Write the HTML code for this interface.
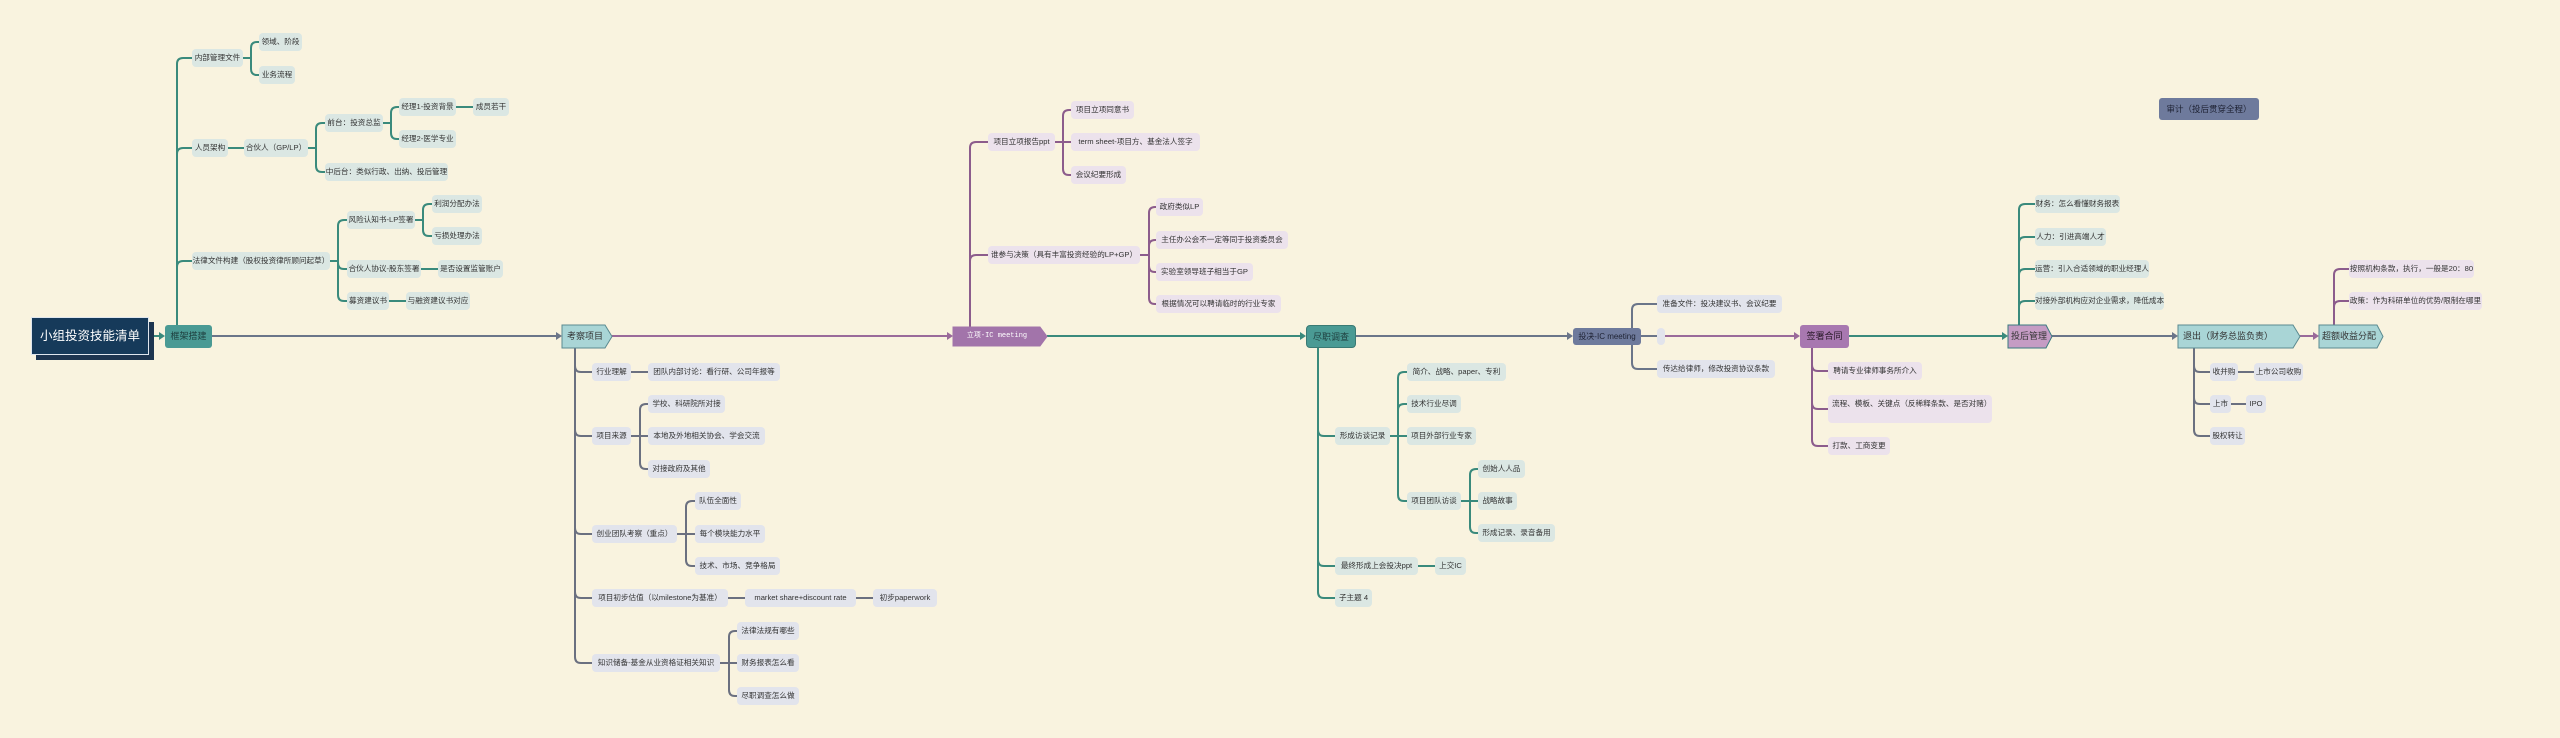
<!DOCTYPE html>
<html><head><meta charset="utf-8"><style>
html,body{margin:0;padding:0}
body{width:2560px;height:738px;background:#f9f3df;position:relative;overflow:hidden;font-family:"Liberation Sans","Noto Sans CJK SC",sans-serif}
svg{position:absolute;left:0;top:0}
.n{position:absolute;height:18px;line-height:18px;font-size:7.6px;border-radius:4px;text-align:center;white-space:nowrap;color:#333}
.t{background:#dbe7e3}.g{background:#e2e4ec}.p{background:#ece2ec}
.m{position:absolute;height:23px;line-height:23px;font-size:9px;text-align:center;white-space:nowrap;color:#333}
</style></head><body>
<svg width="2560" height="738" fill="none" stroke-width="2">
<g stroke="#3a8a7c"><path d="M149 336H160"/></g>
<path d="M212 336H557" stroke="#6b7589"/>
<path d="M612 336H948" stroke="#9a6a9a"/>
<path d="M1047 336H1301" stroke="#3a8a7c"/>
<path d="M1356 336H1568" stroke="#6b7589"/>
<path d="M1641 336H1657" stroke="#6b7589"/>
<path d="M1665 336H1795" stroke="#9a6a9a"/>
<path d="M1849 336H2003" stroke="#3a8a7c"/>
<path d="M2052 336H2173" stroke="#6b7589"/>
<path d="M2300 336H2314" stroke="#9a6a9a"/>
<g stroke="none">
<polygon points="159,332 165,336 159,340" fill="#3a8a7c"/>
<polygon points="556,332 562,336 556,340" fill="#6b7589"/>
<polygon points="947,332 953,336 947,340" fill="#9a6a9a"/>
<polygon points="1300,332 1306,336 1300,340" fill="#3a8a7c"/>
<polygon points="1567,332 1573,336 1567,340" fill="#6b7589"/>
<polygon points="1794,332 1800,336 1794,340" fill="#9a6a9a"/>
<polygon points="2002,332 2008,336 2002,340" fill="#3a8a7c"/>
<polygon points="2172,332 2178,336 2172,340" fill="#6b7589"/>
<polygon points="2313,332 2319,336 2313,340" fill="#9a6a9a"/>
</g>
<g stroke="#3a8a7c">
<path d="M177 325V64Q177 58 183 58H192"/>
<path d="M177 325V154Q177 148 183 148H192"/>
<path d="M177 325V267Q177 261 183 261H192"/>
<path d="M243 58H251M251 58V48Q251 42 257 42H259M251 58V69Q251 75 257 75H259"/>
<path d="M228 148H244"/>
<path d="M308 148H316M316 148V129Q316 123 322 123H325M316 148V166Q316 172 322 172H325"/>
<path d="M383 123H391M391 123V113Q391 107 397 107H399M391 123V133Q391 139 397 139H399"/>
<path d="M456 107H473"/>
<path d="M330 261H338M338 261V226Q338 220 344 220H347M338 261V263Q338 269 344 269H347M338 261V295Q338 301 344 301H347"/>
<path d="M415 220H423M423 220V210Q423 204 429 204H432M423 220V230Q423 236 429 236H432"/>
<path d="M421 269H438M389 301H406"/>
</g>
<g stroke="#6b7080">
<path d="M575 348V366Q575 372 581 372H592M575 348V430Q575 436 581 436H592M575 348V528Q575 534 581 534H592M575 348V592Q575 598 581 598H592M575 348V657Q575 663 581 663H592"/>
<path d="M631 372H648"/>
<path d="M631 436H648M640 436V410Q640 404 646 404H648M640 436V463Q640 469 646 469H648"/>
<path d="M677 534H695M686 534V507Q686 501 692 501H695M686 534V560Q686 566 692 566H695"/>
<path d="M728 598H745M856 598H873"/>
<path d="M720 663H737M729 663V637Q729 631 735 631H737M729 663V690Q729 696 735 696H737"/>
</g>
<g stroke="#8c5c8c">
<path d="M970 327V148Q970 142 976 142H988M970 327V261Q970 255 976 255H988"/>
<path d="M1055 142H1071M1063 142V116Q1063 110 1069 110H1071M1063 142V169Q1063 175 1069 175H1071"/>
<path d="M1140 255H1149M1149 255V213Q1149 207 1155 207H1156M1149 255V246Q1149 240 1155 240H1156M1149 255V266Q1149 272 1155 272H1156M1149 255V298Q1149 304 1155 304H1156"/>
</g>
<g stroke="#3a8a7c">
<path d="M1318 348V430Q1318 436 1324 436H1335M1318 348V560Q1318 566 1324 566H1335M1318 348V592Q1318 598 1324 598H1335"/>
<path d="M1390 436H1407M1398 436V378Q1398 372 1404 372H1407M1398 436V410Q1398 404 1404 404H1407M1398 436V495Q1398 501 1404 501H1407"/>
<path d="M1461 501H1478M1470 501V475Q1470 469 1476 469H1478M1470 501V527Q1470 533 1476 533H1478"/>
<path d="M1418 566H1435"/>
</g>
<g stroke="#6b7589">
<path d="M1632 336V310Q1632 304 1638 304H1657M1632 336V363Q1632 369 1638 369H1657"/>
</g>
<g stroke="#8c5c8c">
<path d="M1812 348V365Q1812 371 1818 371H1828M1812 348V403Q1812 409 1818 409H1828M1812 348V440Q1812 446 1818 446H1828"/>
</g>
<g stroke="#3a8a7c">
<path d="M2019 325V210Q2019 204 2025 204H2035M2019 325V243Q2019 237 2025 237H2035M2019 325V275Q2019 269 2025 269H2035M2019 325V307Q2019 301 2025 301H2035"/>
</g>
<g stroke="#6b7080">
<path d="M2194 348V366Q2194 372 2200 372H2210M2194 348V398Q2194 404 2200 404H2210M2194 348V430Q2194 436 2200 436H2210"/>
<path d="M2238 372H2254M2231 404H2246"/>
</g>
<g stroke="#8c5c8c">
<path d="M2334 325V275Q2334 269 2340 269H2349M2334 325V307Q2334 301 2340 301H2349"/>
</g>
<g stroke-width="1">
<polygon points="562,325 605,325 612,336.5 605,348 562,348" fill="#a9d5d6" stroke="#5a8a90"/>
<polygon points="953,327 1040,327 1047,336.5 1040,346 953,346" fill="#a274aa" stroke="#a274aa"/>
<polygon points="2008,325 2046,325 2052,336.5 2046,348 2008,348" fill="#c59cc4" stroke="#3a7a80"/>
<polygon points="2178,325 2293,325 2300,336.5 2293,348 2178,348" fill="#a9d5d6" stroke="#5a8a90"/>
<polygon points="2319,325 2377,325 2383,336.5 2377,348 2319,348" fill="#a9d5d6" stroke="#5a8a90"/>
</g>
<rect x="1657" y="328" width="8" height="17" rx="4" fill="#e2e4ec" stroke="none"/>
</svg>

<div style="position:absolute;left:36px;top:322px;width:118px;height:38px;background:#1d3550"></div>
<div style="position:absolute;left:31px;top:317px;width:118px;height:38px;background:#163a5a;border:1px solid #dfe6ee;box-sizing:border-box;color:#fff;font-size:12.5px;line-height:36px;text-align:center">小组投资技能清单</div>

<div class="m" style="left:165px;top:325px;width:47px;background:#4a9a94;border-radius:3px;color:#1e3e3e">框架搭建</div>
<div class="m" style="left:562px;top:325px;width:46px">考察项目</div>
<div class="m" style="left:953px;top:327px;width:88px;height:19px;line-height:19px;font-size:7px;color:#fff;font-family:'Liberation Mono','Noto Sans CJK SC',monospace">立项-IC meeting</div>
<div class="m" style="left:1306px;top:325px;width:50px;background:#4a9a94;border-radius:4px;color:#1e3e3e;border:1px solid #3a7a74;box-sizing:border-box">尽职调查</div>
<div class="m" style="left:1573px;top:328px;width:68px;height:17px;line-height:17px;font-size:8px;background:#6e7a9c;border-radius:3px;color:#1e2233">投决-IC meeting</div>
<div class="m" style="left:1800px;top:325px;width:49px;background:#a878b0;border-radius:3px;color:#2a1a2a">签署合同</div>
<div class="m" style="left:2008px;top:325px;width:42px">投后管理</div>
<div class="m" style="left:2178px;top:325px;width:118px;text-align:left;padding-left:5px;box-sizing:border-box">退出（财务总监负责）</div>
<div class="m" style="left:2319px;top:325px;width:60px">超额收益分配</div>
<div class="m" style="left:2159px;top:98px;width:100px;height:22px;line-height:22px;font-size:8.5px;background:#6e7a9c;border-radius:3px;color:#1e2233">审计（投后贯穿全程）</div>

<div class="n t" style="left:192px;top:49px;width:51px">内部管理文件</div>
<div class="n t" style="left:259px;top:33px;width:43px">领域、阶段</div>
<div class="n t" style="left:259px;top:66px;width:36px">业务流程</div>
<div class="n t" style="left:192px;top:139px;width:36px">人员架构</div>
<div class="n t" style="left:244px;top:139px;width:64px">合伙人（GP/LP）</div>
<div class="n t" style="left:325px;top:114px;width:58px">前台：投资总监</div>
<div class="n t" style="left:399px;top:98px;width:57px">经理1-投资背景</div>
<div class="n t" style="left:473px;top:98px;width:36px">成员若干</div>
<div class="n t" style="left:399px;top:130px;width:57px">经理2-医学专业</div>
<div class="n t" style="left:325px;top:163px;width:123px">中后台：类似行政、出纳、投后管理</div>
<div class="n t" style="left:192px;top:252px;width:138px">法律文件构建（股权投资律所顾问起草）</div>
<div class="n t" style="left:347px;top:211px;width:68px">风险认知书-LP签署</div>
<div class="n t" style="left:432px;top:195px;width:50px">利润分配办法</div>
<div class="n t" style="left:432px;top:227px;width:50px">亏损处理办法</div>
<div class="n t" style="left:347px;top:260px;width:74px">合伙人协议-股东签署</div>
<div class="n t" style="left:438px;top:260px;width:65px">是否设置监管账户</div>
<div class="n t" style="left:347px;top:292px;width:42px">募资建议书</div>
<div class="n t" style="left:406px;top:292px;width:64px">与融资建议书对应</div>

<div class="n g" style="left:592px;top:363px;width:39px">行业理解</div>
<div class="n g" style="left:648px;top:363px;width:132px">团队内部讨论：看行研、公司年报等</div>
<div class="n g" style="left:592px;top:427px;width:39px">项目来源</div>
<div class="n g" style="left:648px;top:395px;width:77px">学校、科研院所对接</div>
<div class="n g" style="left:648px;top:427px;width:117px">本地及外地相关协会、学会交流</div>
<div class="n g" style="left:648px;top:460px;width:62px">对接政府及其他</div>
<div class="n g" style="left:592px;top:525px;width:85px">创业团队考察（重点）</div>
<div class="n g" style="left:695px;top:492px;width:46px">队伍全面性</div>
<div class="n g" style="left:695px;top:525px;width:70px">每个模块能力水平</div>
<div class="n g" style="left:695px;top:557px;width:85px">技术、市场、竞争格局</div>
<div class="n g" style="left:592px;top:589px;width:136px">项目初步估值（以milestone为基准）</div>
<div class="n g" style="left:745px;top:589px;width:111px">market share+discount rate</div>
<div class="n g" style="left:873px;top:589px;width:64px">初步paperwork</div>
<div class="n g" style="left:592px;top:654px;width:128px">知识储备-基金从业资格证相关知识</div>
<div class="n g" style="left:737px;top:622px;width:62px">法律法规有哪些</div>
<div class="n g" style="left:737px;top:654px;width:62px">财务报表怎么看</div>
<div class="n g" style="left:737px;top:687px;width:62px">尽职调查怎么做</div>

<div class="n p" style="left:988px;top:133px;width:67px">项目立项报告ppt</div>
<div class="n p" style="left:1071px;top:101px;width:63px">项目立项同意书</div>
<div class="n p" style="left:1071px;top:133px;width:129px">term sheet-项目方、基金法人签字</div>
<div class="n p" style="left:1071px;top:166px;width:55px">会议纪要形成</div>
<div class="n p" style="left:988px;top:246px;width:152px">谁参与决策（具有丰富投资经验的LP+GP）</div>
<div class="n p" style="left:1156px;top:198px;width:47px">政府类似LP</div>
<div class="n p" style="left:1156px;top:231px;width:132px">主任办公会不一定等同于投资委员会</div>
<div class="n p" style="left:1156px;top:263px;width:97px">实验室领导班子相当于GP</div>
<div class="n p" style="left:1156px;top:295px;width:125px">根据情况可以聘请临时的行业专家</div>

<div class="n t" style="left:1335px;top:427px;width:55px">形成访谈记录</div>
<div class="n t" style="left:1407px;top:363px;width:99px">简介、战略、paper、专利</div>
<div class="n t" style="left:1407px;top:395px;width:54px">技术行业尽调</div>
<div class="n t" style="left:1407px;top:427px;width:69px">项目外部行业专家</div>
<div class="n t" style="left:1407px;top:492px;width:54px">项目团队访谈</div>
<div class="n t" style="left:1478px;top:460px;width:47px">创始人人品</div>
<div class="n t" style="left:1478px;top:492px;width:39px">战略故事</div>
<div class="n t" style="left:1478px;top:524px;width:77px">形成记录、录音备用</div>
<div class="n t" style="left:1335px;top:557px;width:83px">最终形成上会投决ppt</div>
<div class="n t" style="left:1435px;top:557px;width:31px">上交IC</div>
<div class="n t" style="left:1335px;top:589px;width:37px">子主题 4</div>

<div class="n g" style="left:1657px;top:295px;width:125px">准备文件：投决建议书、会议纪要</div>
<div class="n g" style="left:1657px;top:360px;width:118px">传达给律师，修改投资协议条款</div>

<div class="n p" style="left:1828px;top:362px;width:94px">聘请专业律师事务所介入</div>
<div class="n p" style="left:1828px;top:395px;width:164px;height:28px;line-height:11px;padding:3px 4px;box-sizing:border-box;text-align:left;white-space:normal">流程、模板、关键点（反稀释条款、是否对赌）</div>
<div class="n p" style="left:1828px;top:437px;width:62px">打款、工商变更</div>

<div class="n t" style="left:2035px;top:195px;width:85px">财务：怎么看懂财务报表</div>
<div class="n t" style="left:2035px;top:228px;width:71px">人力：引进高端人才</div>
<div class="n t" style="left:2035px;top:260px;width:114px">运营：引入合适领域的职业经理人</div>
<div class="n t" style="left:2035px;top:292px;width:129px">对接外部机构应对企业需求，降低成本</div>

<div class="n g" style="left:2210px;top:363px;width:28px">收并购</div>
<div class="n g" style="left:2254px;top:363px;width:49px">上市公司收购</div>
<div class="n g" style="left:2210px;top:395px;width:21px">上市</div>
<div class="n g" style="left:2246px;top:395px;width:20px">IPO</div>
<div class="n g" style="left:2210px;top:427px;width:35px">股权转让</div>

<div class="n p" style="left:2349px;top:260px;width:125px">按照机构条款，执行，一般是20：80</div>
<div class="n p" style="left:2349px;top:292px;width:133px">政策：作为科研单位的优势/限制在哪里</div>
</body></html>
